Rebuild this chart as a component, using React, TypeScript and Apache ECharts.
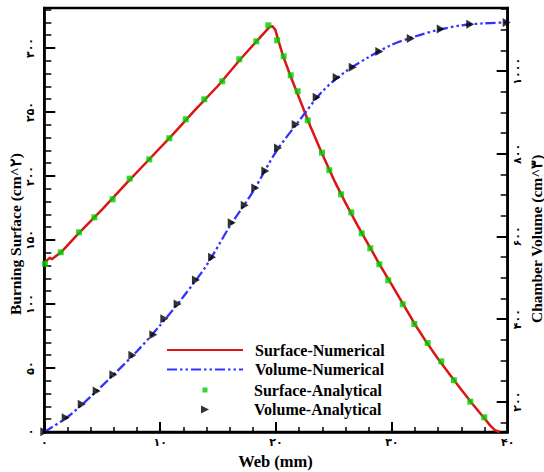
import React, { useEffect, useRef } from "react";
import * as echarts from "echarts";

// Surface numerical curve (web mm, burning surface cm^2)
const surfNumW = [0, 0.49, 0.66, 0.93, 1.44, 3, 5, 7, 9, 11, 13, 15, 17, 18.3, 19, 19.45, 19.7, 19.95, 20.2, 20.6, 21.3, 22, 23, 24, 25, 26, 27, 28, 29, 30, 31, 32, 33, 34, 35, 36, 37, 38, 38.5, 38.9, 39.3];
const surfNumS = [132.3, 136.2, 135, 137, 140.4, 155.5, 174, 193.5, 212.5, 231.5, 251.5, 270.5, 292, 305, 312, 316.5, 317, 314, 306, 294, 277, 261, 238, 217, 197, 179, 162, 146, 130, 115, 99.5, 84, 70, 57, 45, 33, 21.5, 10.5, 5, 1.5, 0];

// Volume numerical curve (web mm, chamber volume cm^3)
const volNumW = [0, 2, 4, 6, 8, 10, 12, 14, 16, 18, 20, 22, 24, 26, 28, 30, 32, 34, 36, 38, 40];
const volNumV = [126.6, 163, 212, 266, 322, 385, 454, 530, 624, 708, 805, 880, 951, 999, 1034, 1064, 1084, 1100, 1111, 1116, 1118];

// Surface analytical points
const surfAnaW = [0.06, 1.42, 3.0, 4.32, 5.9, 7.37, 9.06, 10.79, 12.21, 13.81, 15.36, 16.83, 18.3, 19.34, 20.1, 20.66, 21.27, 21.87, 22.74, 23.97, 24.6, 25.61, 26.5, 27.4, 28.14, 28.92, 29.69, 30.94, 31.94, 33.09, 34.27, 35.36, 36.77, 37.98];
const surfAnaS = [131.3, 140.4, 156.0, 167.7, 181.8, 197.9, 213.0, 229.5, 244.3, 259.9, 274.0, 291.2, 305.2, 317.7, 306.0, 293.5, 278.7, 266.2, 243.5, 218.2, 204.5, 185.7, 171.6, 155.2, 143.5, 131.0, 118.5, 99.8, 84.4, 69.5, 55.2, 40.4, 23.7, 11.5];

// Volume analytical points
const volAnaW = [0, 1.85, 3.23, 4.52, 5.96, 7.6, 9.41, 10.36, 11.51, 13.09, 14.48, 16.18, 17.3, 18.21, 19.08, 20.17, 21.7, 23.51, 25.24, 26.62, 28.92, 31.63, 34.22, 36.77, 39.91];
const volAnaV = [127.4, 161.3, 193.7, 225.9, 265.4, 312.3, 362.2, 401.0, 436.6, 494.7, 549.6, 633.4, 675.5, 717.4, 758.6, 814.3, 870.7, 937.0, 984.5, 1009.7, 1047.5, 1078.9, 1102.4, 1113.8, 1117.7];

// Tick values
const xTicks = [0, 10, 20, 30, 40];
const surfTicks = [0, 50, 100, 150, 200, 250, 300];
const surfMinorTicks = [10, 20, 30, 40, 60, 70, 80, 90, 110, 120, 130, 140, 160, 170, 180, 190, 210, 220, 230, 240, 260, 270, 280, 290, 310, 320, 330];
const volTicks = [200, 400, 600, 800, 1000];
const volMinorTicks = [150, 250, 300, 350, 450, 500, 550, 650, 700, 750, 850, 900, 950, 1050, 1100, 1150];

const seriesNames = ["Surface-Numerical", "Volume-Numerical", "Surface-Analytical", "Volume-Analytical"];
const xTitle = "Web (mm)";
const yLeftTitle = "Burning Surface (cm^۲)";
const yRightTitle = "Chamber Volume (cm^۳)";

const toFa = (v: number | string) => String(v).replace(/\d/g, (d) => "۰۱۲۳۴۵۶۷۸۹"[+d]);
const zip = (a: number[], b: number[]) => a.map((v, i) => [v, b[i]]);

const SERIF = "'Liberation Serif', 'Times New Roman', serif";
const DIGIT_FONT = "'DejaVu Sans', 'Noto Sans', sans-serif";
const TRI = "path://M0,0L10,5L0,10Z";
const SQ = "path://M0,0L10,0L10,10L0,10Z";
const RED = "#dc1414";
const BLUE = "#3232ff";
const GREEN = "#00cc00";

export default function App() {
  const ref = useRef<HTMLDivElement>(null);
  useEffect(() => {
    if (!ref.current) return;
    const chart = echarts.init(ref.current, null, { renderer: "svg" });
    const labelStyle = { fontFamily: DIGIT_FONT, fontSize: 11, fontWeight: "bold" as const, color: "#000" };
    const titleFont = (size: number) => `bold ${size}px ${SERIF}`;
    const legendText = (pad: number) => ({ fontFamily: SERIF, fontSize: 16, fontWeight: "bold" as const, color: "#000", padding: [0, 0, 0, pad], lineHeight: 18 });
    const lineLegend = (name: string, top: number) => ({
      data: [{ name, itemStyle: { opacity: 0 } }],
      left: 166,
      top,
      padding: 0,
      itemWidth: 76,
      itemHeight: 14,
      selectedMode: false,
      textStyle: legendText(7),
    });
    const symLegend = (name: string, top: number, s: number) => ({
      data: [name],
      left: 205 - s / 2,
      top,
      padding: 0,
      itemWidth: s,
      itemHeight: s,
      selectedMode: false,
      textStyle: legendText(44 - s / 2),
    });
    chart.setOption({
      animation: false,
      backgroundColor: "#fff",
      grid: { left: 44.3, right: 36.3, top: 8, bottom: 40, show: true, borderColor: "#000", borderWidth: 2.5, backgroundColor: "transparent" },
      legend: [
        lineLegend(seriesNames[0], 341),
        lineLegend(seriesNames[1], 360.5),
        symLegend(seriesNames[2], 381, 5),
        symLegend(seriesNames[3], 400.5, 8),
      ],
      graphic: [
        { type: "text", x: 275.5, y: 461, style: { text: xTitle, font: titleFont(16.5), fill: "#000", align: "center", verticalAlign: "middle" } },
        { type: "text", x: 15, y: 315, rotation: Math.PI / 2, style: { text: yLeftTitle, font: titleFont(15.5), fill: "#000", align: "left", verticalAlign: "middle" } },
        { type: "text", x: 536, y: 323, rotation: Math.PI / 2, style: { text: yRightTitle, font: titleFont(15.5), fill: "#000", align: "left", verticalAlign: "middle" } },
      ],
      xAxis: [
        {
          type: "value",
          min: 0,
          max: 40,
          interval: 10,
          axisLine: { show: true, lineStyle: { color: "#000", width: 2.5 } },
          axisTick: { show: true, inside: true, length: 10, lineStyle: { color: "#000", width: 2 } },
          minorTick: { show: true, splitNumber: 5, length: 5, lineStyle: { color: "#000", width: 1.5 } },
          axisLabel: { ...labelStyle, margin: 5, formatter: (v: number) => toFa(v), customValues: xTicks },
          splitLine: { show: false },
        },
      ],
      yAxis: [
        {
          type: "value",
          position: "left",
          min: 0,
          max: 331.25,
          axisLine: { show: true, lineStyle: { color: "#000", width: 2.5 } },
          axisTick: { show: true, inside: true, length: 11, customValues: surfTicks, lineStyle: { color: "#000", width: 2 } },
          axisLabel: { ...labelStyle, rotate: 90, margin: 8, formatter: (v: number) => toFa(v), customValues: surfTicks },
          splitLine: { show: false },
        },
        {
          type: "value",
          position: "left",
          min: 0,
          max: 331.25,
          axisLine: { show: false },
          axisTick: { show: true, inside: true, length: 7, customValues: surfMinorTicks, lineStyle: { color: "#000", width: 1.5 } },
          axisLabel: { show: false },
          splitLine: { show: false },
        },
        {
          type: "value",
          position: "right",
          min: 126.6,
          max: 1153,
          axisLine: { show: true, lineStyle: { color: "#000", width: 2.5 } },
          axisTick: { show: true, inside: true, length: 11, customValues: volTicks, lineStyle: { color: "#000", width: 2 } },
          axisLabel: { ...labelStyle, rotate: 90, margin: 4, formatter: (v: number) => toFa(v), customValues: volTicks },
          splitLine: { show: false },
        },
        {
          type: "value",
          position: "right",
          min: 126.6,
          max: 1153,
          axisLine: { show: false },
          axisTick: { show: true, inside: true, length: 7, customValues: volMinorTicks, lineStyle: { color: "#000", width: 1.5 } },
          axisLabel: { show: false },
          splitLine: { show: false },
        },
      ],
      series: [
        {
          name: seriesNames[0],
          type: "line",
          yAxisIndex: 0,
          data: zip(surfNumW, surfNumS),
          symbol: "none",
          color: RED,
          lineStyle: { color: RED, width: 2.5 },
        },
        {
          name: seriesNames[1],
          type: "line",
          yAxisIndex: 2,
          data: zip(volNumW, volNumV),
          symbol: "none",
          smooth: 0.3,
          color: BLUE,
          lineStyle: { color: BLUE, width: 2.3, type: [10, 3, 2.5, 3, 2.5, 3] },
        },
        {
          name: seriesNames[2],
          type: "scatter",
          yAxisIndex: 0,
          data: zip(surfAnaW, surfAnaS),
          symbol: SQ,
          symbolSize: 6,
          itemStyle: { color: GREEN },
          z: 3,
        },
        {
          name: seriesNames[3],
          type: "scatter",
          yAxisIndex: 2,
          data: zip(volAnaW, volAnaV),
          symbol: TRI,
          symbolSize: [8, 9],
          itemStyle: { color: "#000" },
          z: 3,
        },
      ],
    });
    return () => chart.dispose();
  }, []);
  return <div ref={ref} style={{ position: "fixed", left: 0, top: 0, width: 544, height: 472 }} />;
}
